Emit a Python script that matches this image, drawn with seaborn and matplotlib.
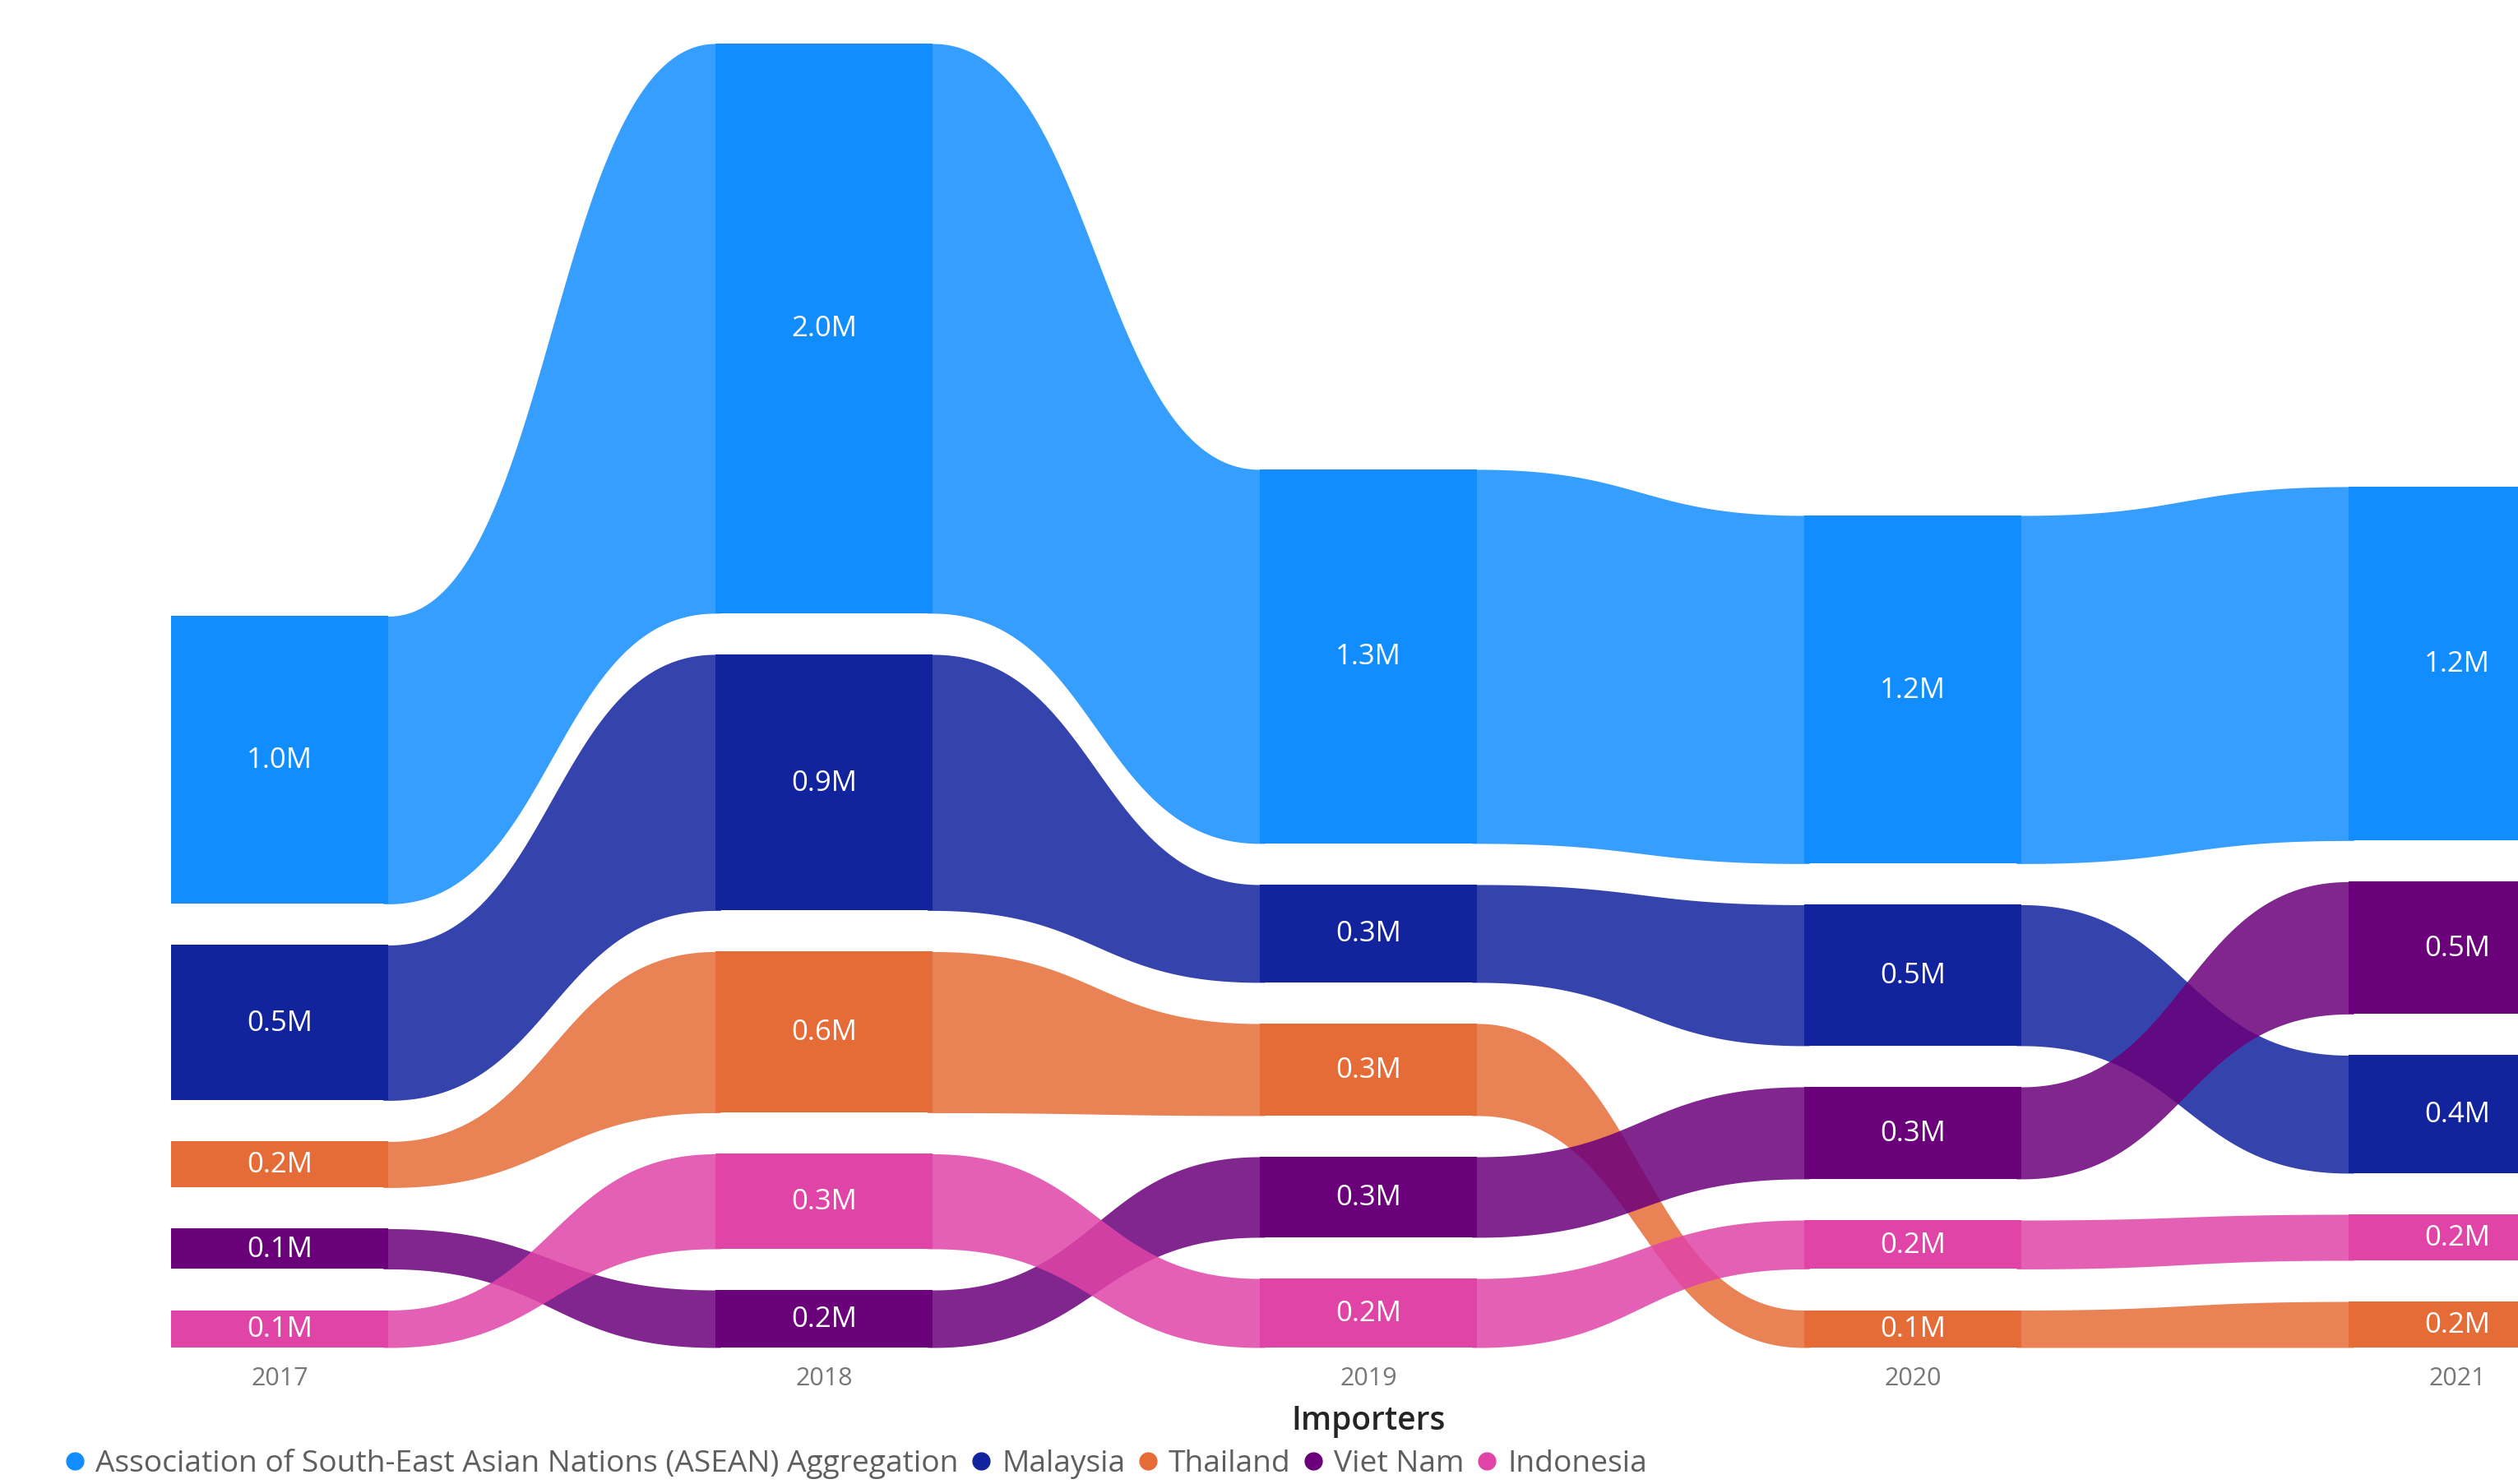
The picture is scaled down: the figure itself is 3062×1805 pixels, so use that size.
import numpy as np
import pandas as pd
import matplotlib
matplotlib.use("Agg")
import matplotlib.pyplot as plt
import seaborn as sns
from matplotlib.lines import Line2D

# ---------------- data (millions) ----------------
years = ["2017", "2018", "2019", "2020", "2021"]
series = ["Association of South-East Asian Nations (ASEAN) Aggregation",
          "Malaysia", "Thailand", "Viet Nam", "Indonesia"]
asean = [1.00, 1.98, 1.30, 1.21, 1.23]
malaysia = [0.54, 0.89, 0.34, 0.49, 0.41]
thailand = [0.16, 0.56, 0.32, 0.13, 0.16]
viet_nam = [0.14, 0.20, 0.28, 0.32, 0.46]
indonesia = [0.13, 0.33, 0.24, 0.17, 0.16]
colors = ["#118DFF", "#12239E", "#E66C37", "#6B007B", "#E044A7"]
axis_title = "Importers"

df = pd.DataFrame(dict(zip(series, [asean, malaysia, thailand, viet_nam, indonesia])),
                  index=years)
palette = dict(zip(series, sns.color_palette(colors)))

# ---------------- style ----------------
sns.set_theme(style="white")
plt.rcParams["font.family"] = ["Open Sans", "DejaVu Sans"]

W, H = 3062, 1806
fig = plt.figure(figsize=(W / 100, H / 100), dpi=100)
x0_px, step_px = 340, 662
base_px, top_px = 1640, 54
xmin = (0 - x0_px) / step_px
xmax = (W - x0_px) / step_px
ax = fig.add_axes([0, (H - base_px) / H, 1, (base_px - top_px) / H])

GAP = 0.143
BAR_W = 0.4
n = len(years)

# ---------------- stacking (largest on top) ----------------
bottoms = {s: np.zeros(n) for s in series}
tops = {s: np.zeros(n) for s in series}
ymax = 0
for j, yr in enumerate(years):
    col = df.loc[yr].sort_values()
    cur = 0.0
    for s, v in col.items():
        bottoms[s][j] = cur
        tops[s][j] = cur + v
        cur += v + GAP
    ymax = max(ymax, cur - GAP)

# ---------------- ribbons ----------------
u = np.linspace(0, 1, 300)
ease = 3 * u**2 - 2 * u**3
ease = np.concatenate([[0.0], ease, [1.0]])
for s in series:
    c = palette[s]
    for j in range(n - 1):
        xa = j + BAR_W / 2
        xb = j + 1 - BAR_W / 2
        xm = (xa + xb) / 2
        xs = (1 - u)**3 * xa + 3 * (1 - u)**2 * u * xm + 3 * (1 - u) * u**2 * xm + u**3 * xb
        xs = np.concatenate([[xa - 0.01], xs, [xb + 0.01]])
        t = tops[s][j] + (tops[s][j + 1] - tops[s][j]) * ease
        b = bottoms[s][j] + (bottoms[s][j + 1] - bottoms[s][j]) * ease
        ax.fill_between(xs, b, t, color=c, alpha=0.85, lw=0, zorder=1)

# ---------------- columns + labels ----------------
for s in series:
    c = palette[s]
    hts = tops[s] - bottoms[s]
    ax.bar(np.arange(n), hts, bottom=bottoms[s], width=BAR_W, color=c, lw=0, zorder=2)
    for j in range(n):
        ax.text(j, bottoms[s][j] + hts[j] / 2, f"{df[s].iloc[j]:.1f}M",
                ha="center", va="center", color="white", fontsize=25, zorder=3)

ax.set_xlim(xmin, xmax)
ax.set_ylim(0, ymax)
ax.set_xticks(range(n))
ax.set_xticklabels(years, fontsize=22, color="#777777")
ax.tick_params(axis="x", length=0, pad=16)
ax.set_yticks([])
for sp in ax.spines.values():
    sp.set_visible(False)

fig.text((x0_px + 2 * step_px) / W, 1 - 1729 / H, axis_title, ha="center", va="center",
         fontsize=28, color="#252423", fontweight="semibold")

handles = [Line2D([], [], marker="o", linestyle="", markersize=15, color=palette[s]) for s in series]
fig.legend(handles, series, loc="center left", bbox_to_anchor=(80 / W, 1 - 1781 / H),
           ncol=5, frameon=False, fontsize=26.7, handletextpad=0.37, columnspacing=0.45,
           borderaxespad=0, borderpad=0, labelcolor="#605E5C", handlelength=0.6)

fig.savefig("out.png", dpi=100, facecolor="white")
